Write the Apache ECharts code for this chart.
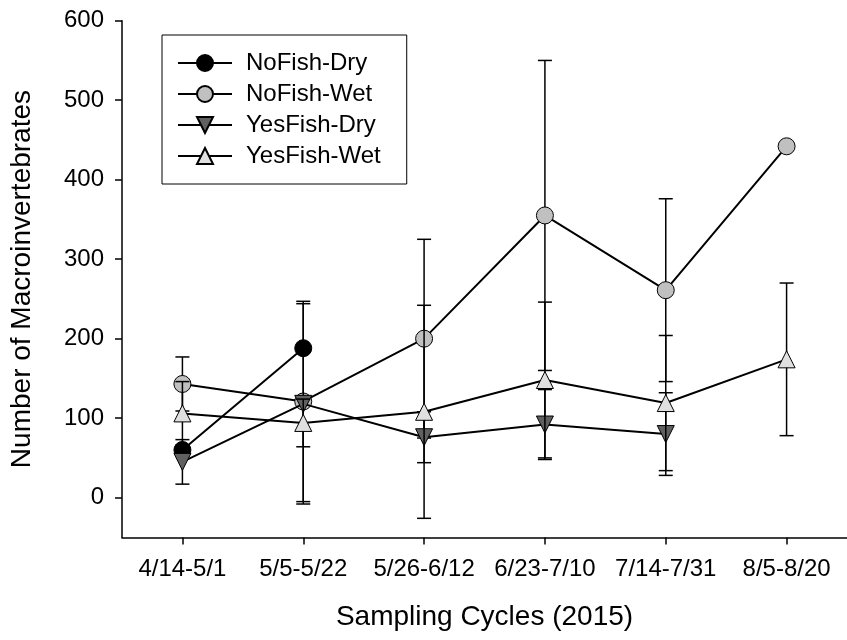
<!DOCTYPE html>
<html>
<head>
<meta charset="utf-8">
<script src="https://cdn.jsdelivr.net/npm/echarts@6/dist/echarts.min.js"></script>
<style>
html,body{margin:0;padding:0;background:#fff;}
#chart{width:847px;height:640px;}
</style>
</head>
<body>
<div id="chart"></div>
<script>
var categories = ['4/14-5/1', '5/5-5/22', '5/26-6/12', '6/23-7/10', '7/14-7/31', '8/5-8/20'];
var yTicks = [0, 100, 200, 300, 400, 500, 600];

var noFishDry = [60, 188, null, null, null, null];
var noFishWet = [143, 121, 200, 355, 261, 442];
var yesFishDry = [45, 118, 76, 92, 80, null];
var yesFishWet = [106, 94, 108, 148, 119, 174];

var noFishDryErr = [null, null, null, null, null, null];
var noFishWetErr = [34, 126, 125, 195, 115, null];
var yesFishDryErr = [28, 126, 32, 44, 52, null];
var yesFishWetErr = [40, 30, 134, 98, 85, 96];

var FONT = "'Liberation Sans', Arial, sans-serif";

function errData(vals, errs) {
  var out = [];
  for (var i = 0; i < vals.length; i++) {
    if (vals[i] != null && errs[i] != null) {
      out.push([i, vals[i] - errs[i], vals[i] + errs[i]]);
    }
  }
  return out;
}

function renderErr(params, api) {
  var x = api.value(0);
  var top = api.coord([x, api.value(2)]);
  var bot = api.coord([x, api.value(1)]);
  var hw = 7;
  var st = { stroke: '#000', lineWidth: 1.5 };
  return {
    type: 'group',
    children: [
      { type: 'line', shape: { x1: top[0], y1: top[1], x2: bot[0], y2: bot[1] }, style: st },
      { type: 'line', shape: { x1: top[0] - hw, y1: top[1], x2: top[0] + hw, y2: top[1] }, style: st },
      { type: 'line', shape: { x1: bot[0] - hw, y1: bot[1], x2: bot[0] + hw, y2: bot[1] }, style: st }
    ]
  };
}

var groups = [
  { name: 'NoFish-Dry', vals: noFishDry, errs: noFishDryErr, symbol: 'circle', rot: 0, fill: '#000000', size: 17 },
  { name: 'NoFish-Wet', vals: noFishWet, errs: noFishWetErr, symbol: 'circle', rot: 0, fill: '#c0c0c0', size: 17 },
  { name: 'YesFish-Dry', vals: yesFishDry, errs: yesFishDryErr, symbol: 'triangle', rot: 180, fill: '#606060', size: 17 },
  { name: 'YesFish-Wet', vals: yesFishWet, errs: yesFishWetErr, symbol: 'triangle', rot: 0, fill: '#e0e0e0', size: 17 }
];

var series = [];
groups.forEach(function (g, i) {
  series.push({
    type: 'custom',
    name: 'err-' + g.name,
    renderItem: renderErr,
    data: errData(g.vals, g.errs),
    encode: { x: 0, y: [1, 2] },
    z: 2 + 2 * i,
    silent: true
  });
  series.push({
    type: 'line',
    name: g.name,
    data: g.vals,
    symbol: g.symbol,
    symbolRotate: g.rot,
    symbolSize: g.size,
    showAllSymbol: true,
    connectNulls: false,
    lineStyle: { color: '#000', width: 2 },
    itemStyle: { color: g.fill, borderColor: '#000', borderWidth: 1 },
    z: 3 + 2 * i
  });
});

var chart = echarts.init(document.getElementById('chart'), null, { renderer: 'canvas' });
chart.setOption({
  animation: false,
  backgroundColor: '#fff',
  textStyle: { fontFamily: FONT },
  grid: { left: 120, right: -9, top: 20.7, bottom: 102.6, containLabel: false },
  legend: {
    data: groups.map(function (g) { return g.name; }),
    orient: 'vertical',
    left: 162,
    top: 35,
    padding: [16, 26, 16, 15],
    itemGap: 7,
    itemWidth: 54,
    itemHeight: 20,
    borderColor: '#000',
    borderWidth: 1,
    textStyle: { fontFamily: FONT, fontSize: 24, color: '#000', lineHeight: 24, padding: [0, 0, 0, 9] }
  },
  xAxis: {
    type: 'category',
    data: categories,
    boundaryGap: true,
    name: 'Sampling Cycles (2015)',
    nameLocation: 'middle',
    nameGap: 66,
    nameTextStyle: { fontFamily: FONT, fontSize: 28, color: '#000' },
    axisLine: { show: true, onZero: false, lineStyle: { color: '#000', width: 1.5 } },
    axisTick: { show: true, alignWithLabel: true, length: 7, lineStyle: { color: '#000', width: 1.5 } },
    axisLabel: { fontFamily: FONT, fontSize: 24, color: '#000', margin: 20, interval: 0 },
    splitLine: { show: false }
  },
  yAxis: {
    type: 'value',
    min: -50,
    max: 600,
    name: 'Number of Macroinvertebrates',
    nameLocation: 'middle',
    nameGap: 86,
    nameTextStyle: { fontFamily: FONT, fontSize: 28, color: '#000' },
    axisLine: { show: true, lineStyle: { color: '#000', width: 1.5 } },
    axisTick: { show: true, length: 7, customValues: yTicks, lineStyle: { color: '#000', width: 1.5 } },
    axisLabel: { fontFamily: FONT, fontSize: 24, color: '#000', margin: 18, customValues: yTicks },
    splitLine: { show: false }
  },
  series: series
});
</script>
</body>
</html>
